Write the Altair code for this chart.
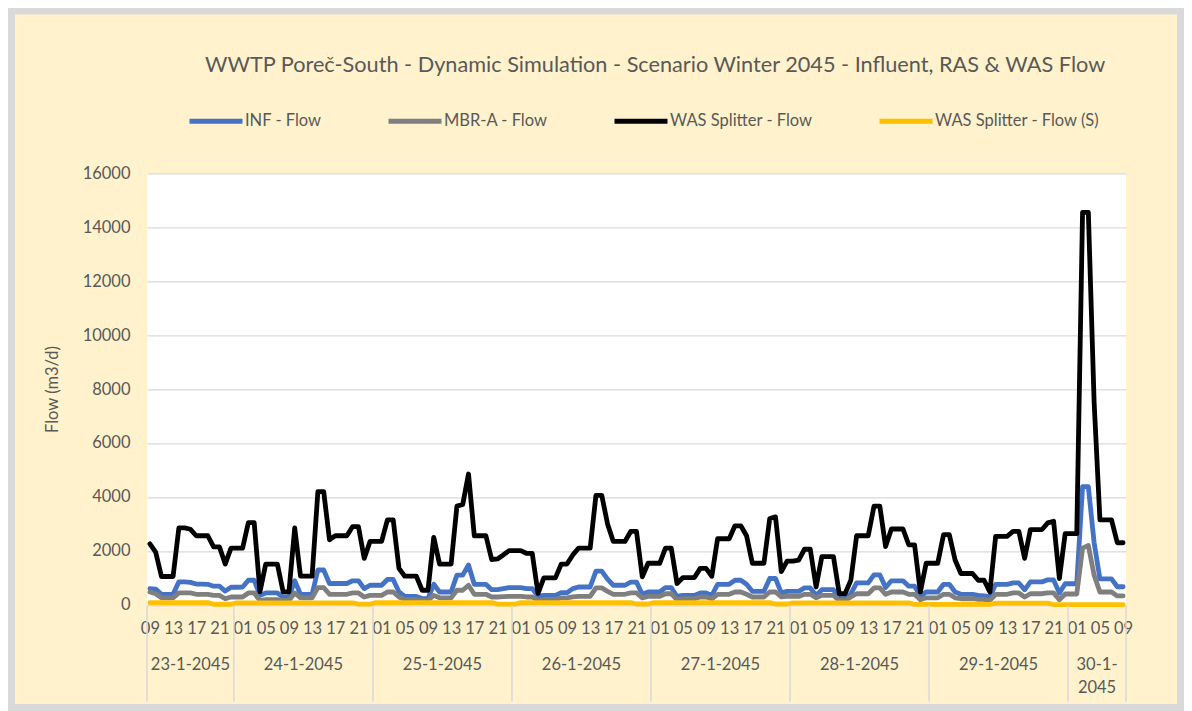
import json
import altair as alt
import pandas as pd

# ---------------- data ----------------
series_names = ["INF - Flow", "MBR-A - Flow", "WAS Splitter - Flow", "WAS Splitter - Flow (S)"]
series_colors = ["#4472C4", "#7F7F7F", "#000000", "#FFC000"]

# hourly values from 23-1-2045 09:00 to 30-1-2045 09:00 (169 points)
inf_flow = [
    600, 580, 390, 390, 390, 850, 850, 830, 770, 770, 760, 690, 690, 510, 650,
    650, 660, 910, 910, 350, 440, 440, 440, 290, 290, 890, 390, 390, 390, 1290, 1290, 790, 790, 790, 790, 890, 890, 600, 725, 725,
    725, 940, 940, 475, 310, 310, 310, 230, 230, 760, 475, 475, 475, 1100, 1100, 1475, 760, 760, 760, 560, 560, 600, 640, 640,
    640, 600, 600, 310, 350, 350, 350, 450, 450, 600, 660, 660, 660, 1250, 1250, 950, 725, 725, 725, 840, 840, 390, 475, 475,
    475, 640, 640, 310, 350, 350, 350, 440, 440, 350, 760, 760, 760, 910, 910, 760, 500, 500, 500, 975, 975, 440, 500, 500,
    500, 625, 625, 350, 560, 560, 560, 230, 230, 410, 810, 810, 810, 1110, 1110, 640, 890, 890, 890, 690, 690, 310, 475, 475,
    475, 760, 760, 475, 390, 390, 390, 350, 330, 290, 760, 760, 760, 810, 810, 560, 850, 850, 850, 925, 925, 440, 780, 780,
    780, 4380, 4380, 2300, 960, 960, 960, 670, 670,
]
mbr_flow = [
    475, 410, 260, 260, 260, 440, 440, 440, 390, 390, 390, 350, 350, 225, 290,
    290, 290, 440, 440, 160, 190, 190, 190, 160, 160, 440, 260, 260, 260, 640, 640, 390, 390, 390, 390, 440, 440, 290, 350, 350,
    350, 475, 475, 290, 190, 190, 190, 160, 160, 350, 260, 260, 260, 540, 540, 725, 390, 390, 390, 290, 290, 300, 310, 310,
    310, 290, 290, 160, 190, 190, 190, 260, 260, 290, 310, 310, 310, 625, 625, 500, 390, 390, 390, 440, 440, 260, 310, 310,
    310, 410, 410, 190, 225, 225, 225, 290, 290, 225, 390, 390, 390, 475, 475, 390, 290, 290, 290, 475, 475, 290, 310, 310,
    310, 390, 390, 260, 350, 350, 350, 160, 160, 290, 410, 410, 410, 625, 625, 390, 475, 475, 475, 390, 390, 190, 260, 260,
    260, 390, 390, 260, 225, 225, 225, 200, 200, 160, 390, 390, 390, 440, 440, 290, 410, 410, 410, 440, 440, 190, 400, 400,
    400, 2100, 2200, 1100, 475, 475, 475, 330, 330,
]
was_flow = [
    2260, 1950, 1050, 1050, 1050, 2850, 2850, 2800, 2560, 2560, 2560, 2150, 2150, 1510, 2100,
    2100, 2100, 3050, 3050, 480, 1510, 1510, 1510, 480, 480, 2850, 1060, 1060, 1060, 4200, 4200, 2410, 2560, 2560, 2560, 2900, 2900, 1720, 2350, 2350,
    2350, 3150, 3150, 1350, 1060, 1060, 1060, 540, 540, 2500, 1510, 1510, 1510, 3660, 3720, 4850, 2560, 2560, 2560, 1680, 1700, 1850, 2010, 2010,
    2010, 1910, 1910, 420, 1000, 1000, 1000, 1510, 1510, 1850, 2100, 2100, 2100, 4060, 4060, 3000, 2350, 2350, 2350, 2720, 2720, 1040, 1540, 1540,
    1540, 2100, 2100, 790, 1010, 1010, 1010, 1350, 1350, 1060, 2450, 2450, 2450, 2930, 2930, 2560, 1540, 1540, 1540, 3200, 3260, 1230, 1620, 1620,
    1660, 2060, 2060, 660, 1790, 1790, 1790, 410, 410, 910, 2560, 2560, 2560, 3660, 3660, 2160, 2810, 2810, 2810, 2225, 2225, 475, 1540, 1540,
    1540, 2600, 2600, 1660, 1160, 1160, 1160, 910, 910, 475, 2540, 2540, 2540, 2725, 2725, 1725, 2790, 2790, 2790, 3040, 3100, 975, 2640, 2640,
    2640, 14550, 14550, 7500, 3150, 3150, 3150, 2300, 2300,
]
was_s_flow = [
    80, 80, 80, 80, 80, 80, 80, 80, 80, 80, 80, 20, 20, 20, 20,
    75, 75, 75, 75, 75, 75, 75, 75, 75, 75, 75, 75, 75, 75, 75, 75, 75, 75, 75, 75, 75, 25, 25, 25, 80,
    80, 80, 80, 80, 80, 80, 80, 80, 80, 80, 80, 80, 80, 80, 80, 80, 80, 80, 80, 80, 25, 25, 25, 25,
    80, 80, 80, 80, 80, 80, 80, 80, 80, 80, 80, 80, 80, 80, 80, 80, 80, 80, 80, 80, 30, 30, 30, 80,
    80, 80, 80, 80, 80, 80, 80, 80, 80, 80, 80, 80, 80, 80, 80, 80, 80, 80, 80, 80, 30, 30, 30, 75,
    75, 75, 75, 75, 75, 75, 75, 75, 75, 75, 75, 75, 75, 75, 75, 75, 75, 75, 75, 75, 15, 15, 15, 15,
    15, 15, 15, 15, 15, 15, 15, 15, 15, 15, 60, 60, 60, 60, 60, 60, 60, 60, 60, 60, 10, 10, 10, 10,
    10, 10, 10, 10, 10, 10, 10, 10, 10,
]
series_values = [inf_flow, mbr_flow, was_flow, was_s_flow]

hour_tick_positions = list(range(0, 169, 4))
hour_tick_labels = ["09", "13", "17", "21"] + ["01", "05", "09", "13", "17", "21"] * 6 + ["01", "05", "09"]

day_labels = ["23-1-2045", "24-1-2045", "25-1-2045", "26-1-2045", "27-1-2045",
              "28-1-2045", "29-1-2045", "30-1-\n2045"]
day_bounds = [-0.5, 14.5, 38.5, 62.5, 86.5, 110.5, 134.5, 158.5, 168.5]

title_text = "WWTP Poreč-South - Dynamic Simulation - Scenario Winter 2045 - Influent, RAS & WAS Flow"

# ---------------- layout ----------------
W, H = 979, 431.5
PAD = {"left": 139, "top": 165.3, "right": 58, "bottom": 106.2}
FONT = "Lato"
FS = 16.5
TXT = "#595959"
GRID = "#D9D9D9"
CREAM = "#FFF2CC"

x_scale = alt.Scale(domain=[-0.5, 168.5], nice=False, zero=False)
y_scale = alt.Scale(domain=[0, 16000], nice=False)

x_axis = alt.Axis(
    values=hour_tick_positions,
    labelExpr=json.dumps(hour_tick_labels) + "[datum.value / 4]",
    labelFont=FONT, labelFontSize=FS, labelColor=TXT,
    ticks=False, grid=False, domainColor=GRID, domainWidth=1,
    labelPadding=16, labelOverlap=False, labelFlush=False, title=None,
)
y_axis = alt.Axis(
    values=list(range(0, 16001, 2000)), format="d",
    labelFont=FONT, labelFontSize=FS, labelColor=TXT, labelPadding=17,
    grid=True, gridColor=GRID, gridWidth=1.3, domain=False, ticks=False,
    title="Flow (m3/d)", titleFont=FONT, titleFontSize=FS, titleColor=TXT,
    titleFontWeight="normal", titlePadding=22,
)
legend = alt.Legend(
    orient="none", legendX=40, legendY=-81, direction="horizontal", title=None,
    symbolType="stroke", symbolSize=2809, symbolStrokeWidth=5,
    labelFont=FONT, labelFontSize=FS, labelColor=TXT, labelOffset=0,
    columnPadding=56, labelLimit=0,
)

layers = []
for name, vals in zip(series_names, series_values):
    df = pd.DataFrame({"idx": list(range(len(vals))), "value": vals, "series": name})
    layers.append(
        alt.Chart(df).mark_line(strokeWidth=4.8, strokeJoin="round", strokeCap="round").encode(
            x=alt.X("idx:Q", scale=x_scale, axis=x_axis),
            y=alt.Y("value:Q", scale=y_scale, axis=y_axis),
            color=alt.Color("series:N", scale=alt.Scale(domain=series_names, range=series_colors), legend=legend),
        )
    )

sep_df = pd.DataFrame({"idx": day_bounds})
separators = alt.Chart(sep_df).mark_rule(color=GRID, strokeWidth=1.5).encode(
    x=alt.X("idx:Q", scale=x_scale, axis=x_axis),
    y=alt.value(H + 1),
    y2=alt.value(H + 97),
)

day_df = pd.DataFrame({
    "idx": [(a + b) / 2 for a, b in zip(day_bounds[:-1], day_bounds[1:])],
    "label": day_labels,
})
day_text = alt.Chart(day_df).mark_text(
    font=FONT, fontSize=FS, color=TXT, baseline="top", align="center", lineBreak="\n", lineHeight=23
).encode(
    x=alt.X("idx:Q", scale=x_scale, axis=x_axis),
    y=alt.value(H + 52),
    text="label:N",
)

frame = alt.Chart(pd.DataFrame({"k": [0]})).mark_rect(
    fill=CREAM, fillOpacity=0, stroke=GRID, strokeWidth=7
).encode(
    x=alt.value(-PAD["left"] + 3.5),
    x2=alt.value(W + PAD["right"] - 3.5),
    y=alt.value(-PAD["top"] + 3),
    y2=alt.value(H + PAD["bottom"] - 3.5),
)

chart = alt.layer(*layers, separators, day_text, frame).properties(
    width=W, height=H,
    padding=PAD,
    autosize=alt.AutoSizeParams(type="none"),
    background=CREAM,
    title=alt.TitleParams(
        title_text, anchor="start", frame="group", dx=58, offset=-69,
        font=FONT, fontSize=21.7, fontWeight="normal", color=TXT,
    ),
).configure_view(fill="white", strokeWidth=0)

chart.save("out.html", embed_options={"renderer": "svg", "actions": False})
